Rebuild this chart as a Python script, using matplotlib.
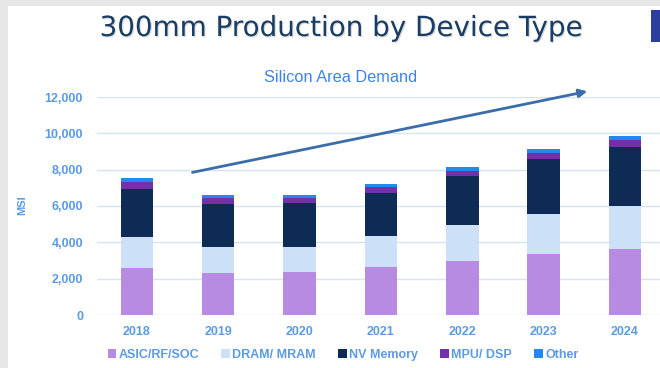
import matplotlib.pyplot as plt
import matplotlib.patheffects as pe
from matplotlib.patches import Patch, Rectangle
from matplotlib.ticker import FuncFormatter

# dados (MSI)
anos = ['2018', '2019', '2020', '2021', '2022', '2023', '2024']
asic = [2600, 2300, 2370, 2640, 2980, 3360, 3640]
dram = [1700, 1450, 1380, 1710, 1980, 2200, 2360]
nv_mem = [2650, 2350, 2420, 2370, 2700, 3040, 3260]
mpu = [380, 340, 280, 330, 270, 330, 380]
outros = [220, 160, 160, 170, 220, 220, 220]

series = [
    ('ASIC/RF/SOC', asic, '#B88BE3'),
    ('DRAM/ MRAM', dram, '#CCE1F8'),
    ('NV Memory', nv_mem, '#0D2B55'),
    ('MPU/ DSP', mpu, '#7231A8'),
    ('Other', outros, '#2389F0'),
]

cor_texto = '#5B9BE2'
fonte = ['Liberation Sans', 'DejaVu Sans']

fig = plt.figure(figsize=(6.6, 3.68), dpi=100)
fig.patch.set_facecolor('#E6E6E6')
# fundo branco do slide
fig.patches.append(Rectangle((8 / 660, 0), 1, 1 - 6 / 368, transform=fig.transFigure,
                             facecolor='white', edgecolor='none', zorder=-5))
# logo no canto
fig.patches.append(Rectangle((651 / 660, 1 - 42 / 368), 12 / 660, 32 / 368,
                             transform=fig.transFigure, facecolor='#2D3F9C',
                             edgecolor='none', zorder=1))

fig.text(341 / 660, 1 - 36 / 368, '300mm Production by Device Type', ha='center', va='baseline',
         fontsize=20, color='#1B3D63', family='DejaVu Sans',
         path_effects=[pe.withSimplePatchShadow(offset=(0.8, -0.8), shadow_rgbFace='#A8B2BE', alpha=0.5)])

fig.text(341 / 660, 1 - 77 / 368, 'Silicon Area Demand', ha='center', va='center',
         fontsize=11.8, color='#3D84E6', family=fonte)

ax = fig.add_axes([97 / 660, 1 - 315 / 368, 563 / 660, 218 / 368])
ax.set_facecolor('none')

x = list(range(len(anos)))
base = [0] * len(anos)
for nome, vals, cor in series:
    ax.bar(x, vals, bottom=base, width=0.4, color=cor, label=nome, zorder=3)
    base = [b + v for b, v in zip(base, vals)]

ax.set_xlim(-0.49, 6.43)
ax.set_ylim(0, 12000)
ax.set_yticks(range(0, 12001, 2000))
ax.yaxis.set_major_formatter(FuncFormatter(lambda v, p: '{:,.0f}'.format(v)))
ax.set_xticks(x)
ax.set_xticklabels(anos)
ax.grid(axis='y', color='#D5E3F4', linewidth=1, zorder=0)
for s in ax.spines.values():
    s.set_visible(False)
ax.tick_params(length=0, colors=cor_texto, labelsize=9, pad=10)
ax.tick_params(axis='x', pad=8)
for lb in ax.get_xticklabels() + ax.get_yticklabels():
    lb.set_family(fonte)
    lb.set_fontweight('bold')

fig.text(22 / 660, 1 - 205 / 368, 'MSI', rotation=90, ha='center', va='center',
         fontsize=8, color=cor_texto, family=fonte, fontweight='bold')

# seta de tendencia
ax.annotate('', xy=(5.57, 12340), xytext=(0.65, 7820), annotation_clip=False,
            arrowprops=dict(arrowstyle='-|>', color='#3B6DA8', lw=2, mutation_scale=12))

handles = [Patch(facecolor=c, edgecolor='none', label=n) for n, v, c in series]
leg = fig.legend(handles=handles, loc='center', bbox_to_anchor=(343 / 660, 1 - 355 / 368),
                 ncol=5, frameon=False, handlelength=0.7, handleheight=0.7,
                 handletextpad=0.2, columnspacing=1.75,
                 prop={'family': fonte, 'weight': 'bold', 'size': 9})
for t in leg.get_texts():
    t.set_color(cor_texto)

fig.savefig('out.png', dpi=100)
